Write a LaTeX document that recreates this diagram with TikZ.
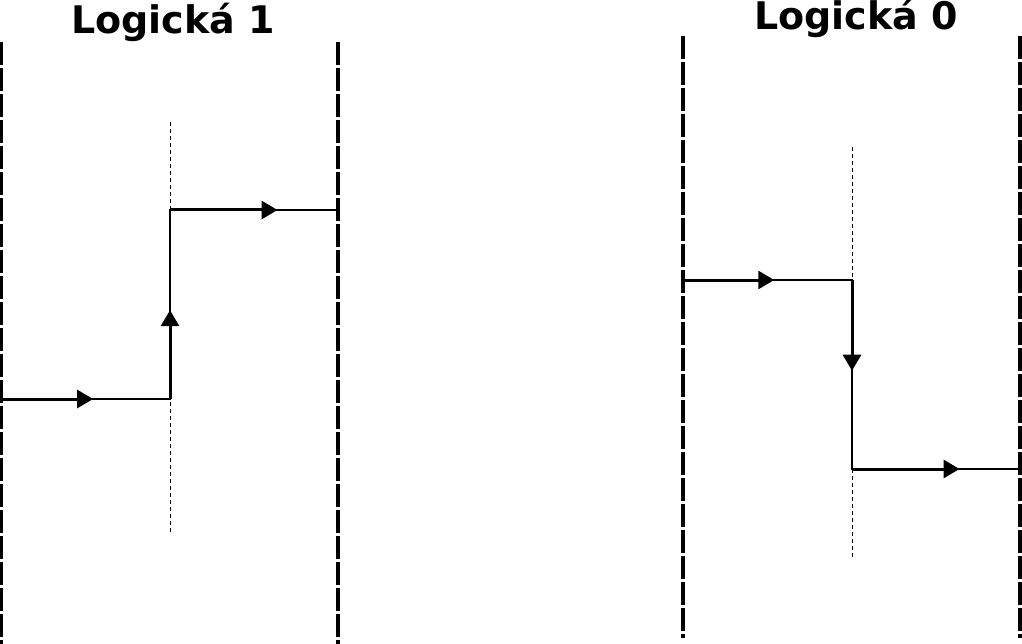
\documentclass[tikz,border=0pt]{standalone}
\usepackage{fontspec}
\setmainfont{DejaVu Sans}
\usetikzlibrary{arrows.meta,calc}
\begin{document}
\begin{tikzpicture}[x=1pt,y=-1pt,
	bound/.style={ line width=3.4pt, dash pattern=on 23pt off 3pt },
	mid/.style={ line width=0.9pt, dash pattern=on 4pt off 3pt },
	wire/.style={ line width=1.5pt },
	flow/.style={ line width=3pt, -{Triangle[length=16pt,width=18pt]} },
	title/.style={ font=\fontsize{38}{40}\selectfont\bfseries, inner sep=0pt }
]
\useasboundingbox (0,0) rectangle (1022,644);

% logical one
\node at (173,22) (tone) [title] {Logická 1};
\coordinate (la) at (1,42);  \coordinate (lb) at (1,644);
\coordinate (lc) at (338,42); \coordinate (ld) at (338,644);
\draw[bound] (la) -- (lb);
\draw[bound] (lc) -- (ld);
\coordinate (lm1) at (170,122); \coordinate (lm2) at (170,532);
\draw[mid] (lm1) -- (lm2);
\coordinate (l0) at (1,399);
\coordinate (l1) at (170,399);
\coordinate (l2) at (170,210);
\coordinate (l3) at (338,210);
\draw[wire] (l0) -- (l1) -- (l2) -- (l3);
\draw[flow] (l0) -- ($(l0)!0.545!(l1)$);
\draw[flow] (l1) -- ($(l1)!0.47!(l2)$);
\draw[flow] (l2) -- ($(l2)!0.64!(l3)$);

% logical zero
\node at (856,18) (tzero) [title] {Logická 0};
\coordinate (ra) at (683,36);  \coordinate (rb) at (683,638);
\coordinate (rc) at (1020,36); \coordinate (rd) at (1020,638);
\draw[bound] (ra) -- (rb);
\draw[bound] (rc) -- (rd);
\coordinate (rm1) at (852,147); \coordinate (rm2) at (852,557);
\draw[mid] (rm1) -- (rm2);
\coordinate (r0) at (683,280);
\coordinate (r1) at (852,280);
\coordinate (r2) at (852,469);
\coordinate (r3) at (1020,469);
\draw[wire] (r0) -- (r1) -- (r2) -- (r3);
\draw[flow] (r0) -- ($(r0)!0.54!(r1)$);
\draw[flow] (r1) -- ($(r1)!0.48!(r2)$);
\draw[flow] (r2) -- ($(r2)!0.64!(r3)$);

\end{tikzpicture}
\end{document}
